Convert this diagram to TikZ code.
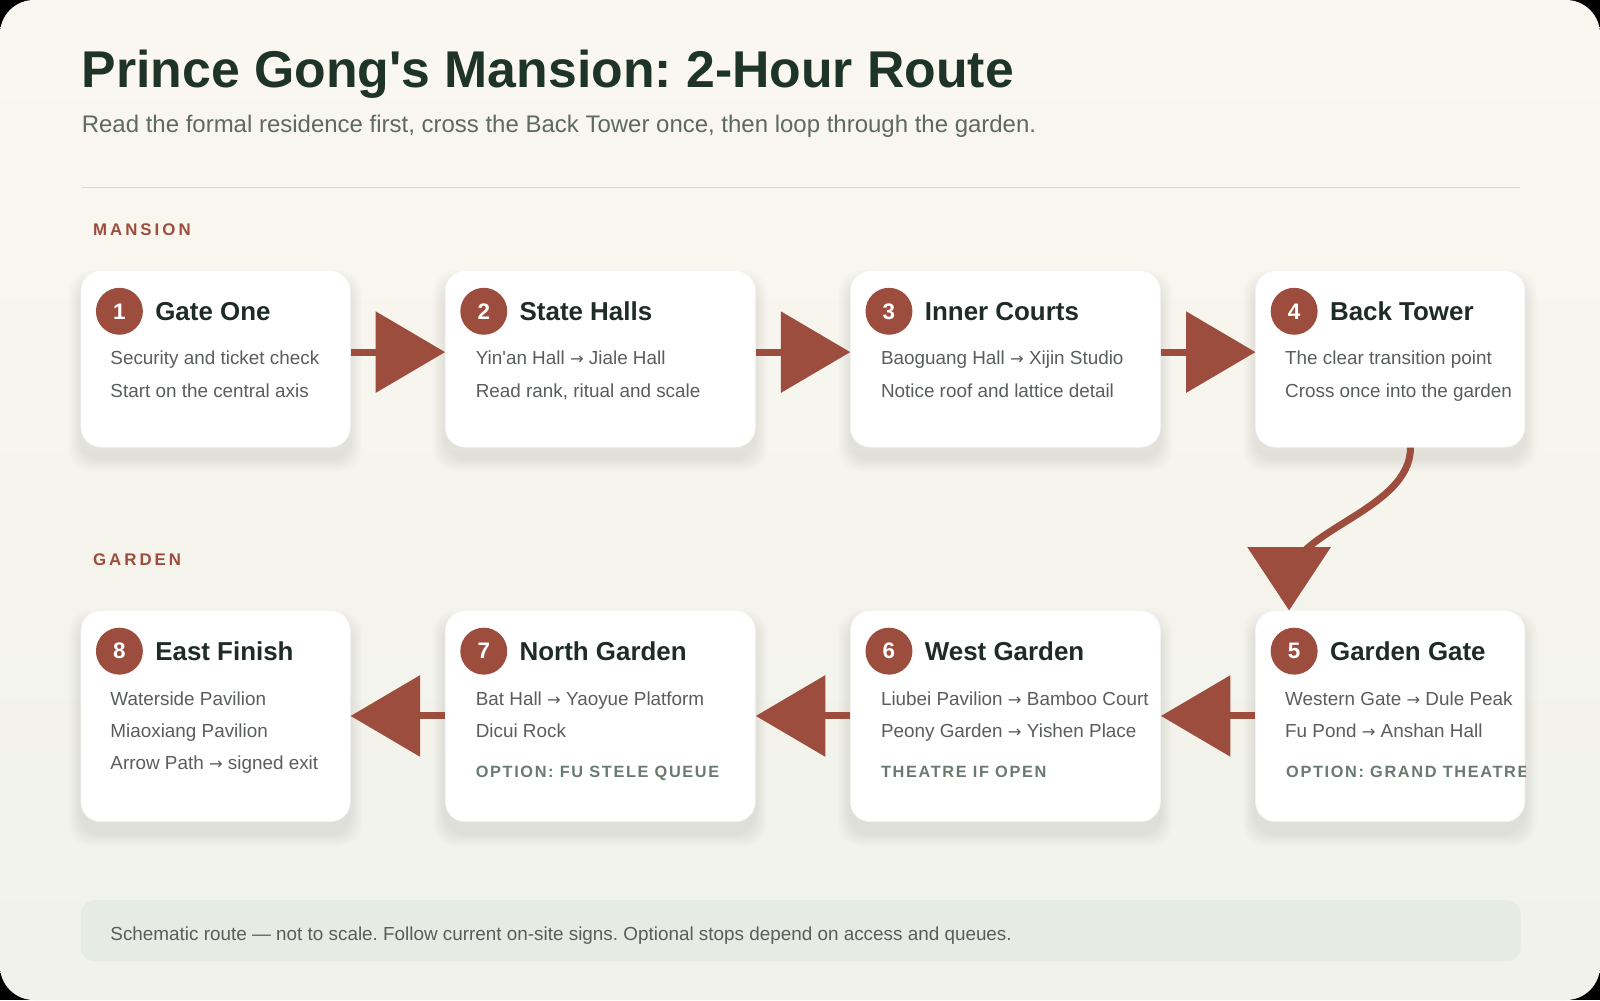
\documentclass[tikz,border=0pt]{standalone}
\usepackage{fontspec}
\setmainfont{Liberation Sans}[Ligatures=TeXOff]
\newfontfamily\spacedA{Liberation Sans}[LetterSpace=18,Ligatures=TeXOff]
\newfontfamily\spacedB{Liberation Sans}[LetterSpace=10,Ligatures=TeXOff]
\newfontfamily\arrowfont{DejaVu Sans}
\usetikzlibrary{calc}
\frenchspacing
\definecolor{rust}{HTML}{9C4D3E}
\definecolor{bgtop}{HTML}{FAF7F0}
\definecolor{bgbot}{HTML}{F0F2EB}
\definecolor{titlecol}{HTML}{1F3428}
\definecolor{subcol}{HTML}{5D6A61}
\definecolor{bodycol}{HTML}{5A5E5B}
\definecolor{optcol}{HTML}{6A7A71}
\definecolor{headcol}{HTML}{1F2B26}
\definecolor{rulecol}{HTML}{D8DAD2}
\definecolor{footcol}{HTML}{E6EBE4}
\newcommand\ar{{\arrowfont\fontsize{16}{16}\selectfont →}}
\tikzset{
  card/.style={draw=black!5, line width=0.6pt, fill=white, rounded corners=20pt, inner sep=0pt},
  badge/.style={circle, fill=rust, minimum size=46pt, inner sep=0pt, text=white, font=\bfseries\fontsize{22}{24}\selectfont},
  cardtitle/.style={inner sep=0pt, text=headcol, font=\bfseries\fontsize{25.4}{28}\selectfont},
  body/.style={inner sep=0pt, text=bodycol, font=\fontsize{18.5}{22}\selectfont},
  opt/.style={inner sep=0pt, text=optcol, font=\spacedB\bfseries\fontsize{16}{18}\selectfont},
  section/.style={inner sep=0pt, text=rust, font=\spacedA\bfseries\fontsize{16.5}{20}\selectfont},
  route/.style={draw=rust, line width=7pt},
  head/.style={fill=rust},
}
\newcommand\mkcard[5]{%
  \foreach \k in {1,...,10} {
    \fill[black, opacity=0.006, rounded corners=22pt] (#2-1.2*\k, #3-1.2*\k+12) rectangle (#2+#4+1.2*\k, #3+#5+1.2*\k+12);
  }
  \node[card, minimum width=#4pt, minimum height=#5pt, anchor=north west] (#1) at (#2,#3) {};
}
\newcommand\cardhead[3]{%
  \node[badge] (#1n) at ($(#1.north west)+(38,40)$) {#2};
  \node[cardtitle, anchor=base west] (#1t) at ($(#1.north west)+(73,49)$) {#3};
}
\begin{document}
\begin{tikzpicture}[x=1pt,y=-1pt,scale=1.0204,every node/.append style={transform shape}]
\useasboundingbox (0,0) rectangle (1568,980);
\fill[black] (0,0) rectangle (1568,980);
\shade[top color=bgtop, bottom color=bgbot, rounded corners=34pt] (0,0) rectangle (1568,980);

% header
\node[anchor=base west, inner sep=0pt, text=titlecol, font=\bfseries\fontsize{50.7}{60}\selectfont] (title) at (80,86) {Prince Gong's Mansion: 2-Hour Route};
\node[anchor=base west, inner sep=0pt, text=subcol, font=\fontsize{23.5}{26}\selectfont] (subtitle) at (80,130) {Read the formal residence first, cross the Back Tower once, then loop through the garden.};
\draw[rulecol, line width=1.3pt] (80,184) -- (1490,184);

\node[section, anchor=base west] (mansion) at (91,231) {MANSION};
\node[section, anchor=base west] (garden) at (91,554) {GARDEN};

% row 1
\mkcard{c1}{79}{265}{264}{173}
\mkcard{c2}{436}{265}{304}{173}
\mkcard{c3}{833}{265}{304}{173}
\mkcard{c4}{1230}{265}{264}{173}
% row 2
\mkcard{c8}{79}{598}{264}{207}
\mkcard{c7}{436}{598}{304}{207}
\mkcard{c6}{833}{598}{304}{207}
\mkcard{c5}{1230}{598}{264}{207}

\cardhead{c1}{1}{Gate One}
\node[body, anchor=base west] (c1a) at ($(c1.north west)+(29,92)$) {Security and ticket check};
\node[body, anchor=base west] (c1b) at ($(c1.north west)+(29,124)$) {Start on the central axis};

\cardhead{c2}{2}{State Halls}
\node[body, anchor=base west] (c2a) at ($(c2.north west)+(30,92)$) {Yin'an Hall \ar{} Jiale Hall};
\node[body, anchor=base west] (c2b) at ($(c2.north west)+(30,124)$) {Read rank, ritual and scale};

\cardhead{c3}{3}{Inner Courts}
\node[body, anchor=base west] (c3a) at ($(c3.north west)+(30,92)$) {Baoguang Hall \ar{} Xijin Studio};
\node[body, anchor=base west] (c3b) at ($(c3.north west)+(30,124)$) {Notice roof and lattice detail};

\cardhead{c4}{4}{Back Tower}
\node[body, anchor=base west] (c4a) at ($(c4.north west)+(29,92)$) {The clear transition point};
\node[body, anchor=base west] (c4b) at ($(c4.north west)+(29,124)$) {Cross once into the garden};

\cardhead{c5}{5}{Garden Gate}
\node[body, anchor=base west] (c5a) at ($(c5.north west)+(29,93)$) {Western Gate \ar{} Dule Peak};
\node[body, anchor=base west] (c5b) at ($(c5.north west)+(29,125)$) {Fu Pond \ar{} Anshan Hall};
\begin{scope}
\clip[rounded corners=20pt] (c5.north west) rectangle (c5.south east);
\node[opt, anchor=base west] (c5o) at ($(c5.north west)+(30,164)$) {OPTION: GRAND THEATRE};
\end{scope}

\cardhead{c6}{6}{West Garden}
\node[body, anchor=base west] (c6a) at ($(c6.north west)+(30,93)$) {Liubei Pavilion \ar{} Bamboo Court};
\node[body, anchor=base west] (c6b) at ($(c6.north west)+(30,125)$) {Peony Garden \ar{} Yishen Place};
\node[opt, anchor=base west] (c6o) at ($(c6.north west)+(30,164)$) {THEATRE IF OPEN};

\cardhead{c7}{7}{North Garden}
\node[body, anchor=base west] (c7a) at ($(c7.north west)+(30,93)$) {Bat Hall \ar{} Yaoyue Platform};
\node[body, anchor=base west] (c7b) at ($(c7.north west)+(30,125)$) {Dicui Rock};
\node[opt, anchor=base west] (c7o) at ($(c7.north west)+(30,164)$) {OPTION: FU STELE QUEUE};

\cardhead{c8}{8}{East Finish}
\node[body, anchor=base west] (c8a) at ($(c8.north west)+(29,93)$) {Waterside Pavilion};
\node[body, anchor=base west] (c8b) at ($(c8.north west)+(29,125)$) {Miaoxiang Pavilion};
\node[body, anchor=base west] (c8c) at ($(c8.north west)+(29,156)$) {Arrow Path \ar{} signed exit};

% connectors row 1
\draw[route] ($(c1.north east)+(0,80)$) -- ($(c2.north west)+(-60,80)$);
\fill[head] ($(c2.north west)+(0,80)$) -- ++(-68,-40) -- ++(0,80) -- cycle;
\draw[route] ($(c2.north east)+(0,80)$) -- ($(c3.north west)+(-60,80)$);
\fill[head] ($(c3.north west)+(0,80)$) -- ++(-68,-40) -- ++(0,80) -- cycle;
\draw[route] ($(c3.north east)+(0,80)$) -- ($(c4.north west)+(-60,80)$);
\fill[head] ($(c4.north west)+(0,80)$) -- ++(-68,-40) -- ++(0,80) -- cycle;

% curved connector 4 -> 5
\draw[route, shorten >=30pt] ($(c4.south west)+(152,0)$) .. controls +(0,62) and +(0,-78) .. ($(c5.north west)+(33,0)$);
\fill[head] ($(c5.north west)+(33,0)$) -- ++(-41,-62) -- ++(82,0) -- cycle;

% connectors row 2
\draw[route] ($(c5.north west)+(0,103.5)$) -- ($(c6.north east)+(60,103.5)$);
\fill[head] ($(c6.north east)+(0,103.5)$) -- ++(68,-40) -- ++(0,80) -- cycle;
\draw[route] ($(c6.north west)+(0,103.5)$) -- ($(c7.north east)+(60,103.5)$);
\fill[head] ($(c7.north east)+(0,103.5)$) -- ++(68,-40) -- ++(0,80) -- cycle;
\draw[route] ($(c7.north west)+(0,103.5)$) -- ($(c8.north east)+(60,103.5)$);
\fill[head] ($(c8.north east)+(0,103.5)$) -- ++(68,-40) -- ++(0,80) -- cycle;

% footer
\node[fill=footcol, rounded corners=14pt, minimum width=1411pt, minimum height=60pt, inner sep=0pt, anchor=north west] (foot) at (79,882) {};
\node[body, anchor=base west] (foottext) at ($(foot.north west)+(29,39)$) {Schematic route — not to scale. Follow current on-site signs. Optional stops depend on access and queues.};
\end{tikzpicture}
\end{document}
